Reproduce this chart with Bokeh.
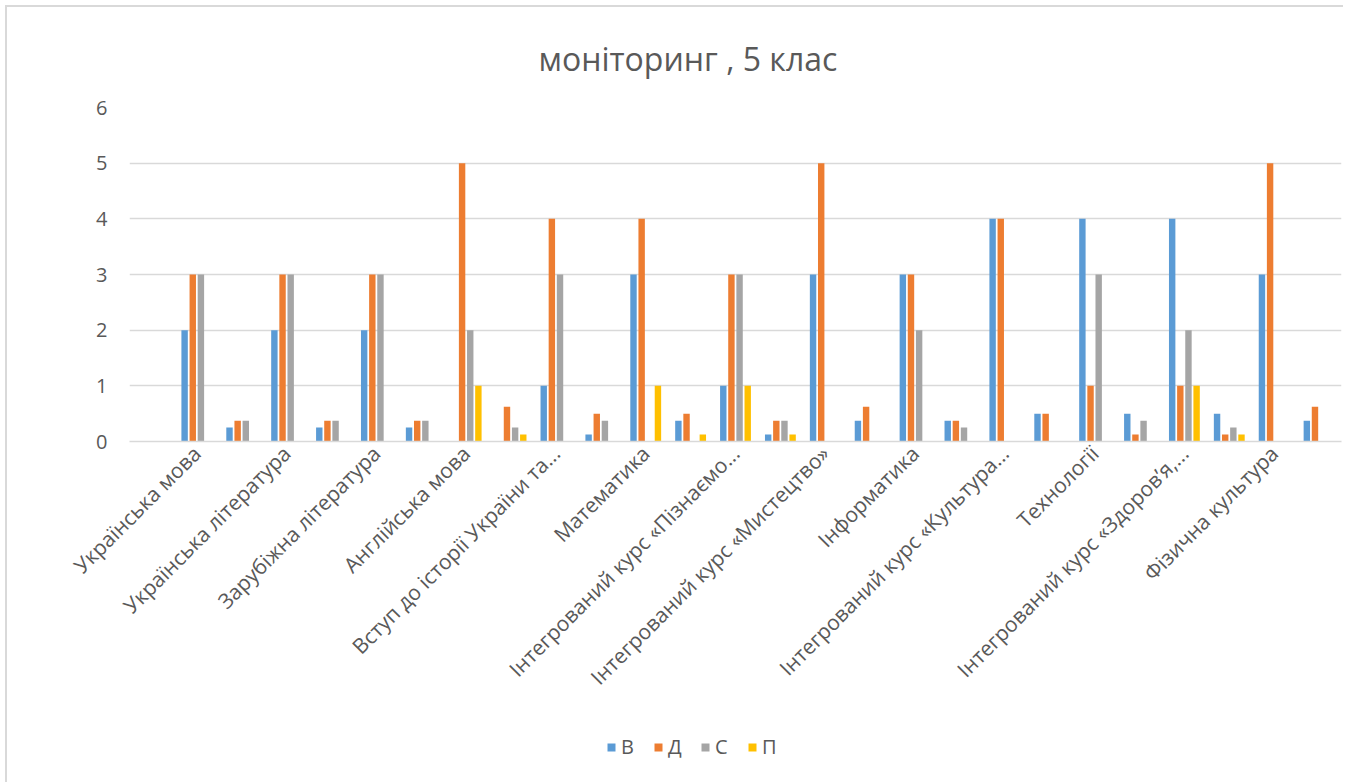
import math
from bokeh.plotting import figure
from bokeh.layouts import column
from bokeh.models import ColumnDataSource, FixedTicker, Legend, LegendItem, Range1d
from bokeh.transform import dodge
from bokeh.embed import file_html
from bokeh.resources import INLINE

# ---- data ----
categories = ["", "Українська мова", "", "Українська література", "", "Зарубіжна література", "",
              "Англійська мова", "", "Вступ до історії України та...", "", "Математика", "",
              "Інтегрований курс «Пізнаємо...", "", "Інтегрований курс «Мистецтво»", "",
              "Інформатика", "", "Інтегрований курс «Культура...", "", "Технології", "",
              "Інтегрований курс «Здоров’я,...", "", "Фізична культура", ""]
series_names = ["В", "Д", "С", "П"]
v_B = [0, 2, 0.25, 2, 0.25, 2, 0.25, 0, 0, 1, 0.125, 3, 0.375, 1, 0.125, 3, 0.375,
       3, 0.375, 4, 0.5, 4, 0.5, 4, 0.5, 3, 0.375]
v_D = [0, 3, 0.375, 3, 0.375, 3, 0.375, 5, 0.625, 4, 0.5, 4, 0.5, 3, 0.375, 5, 0.625,
       3, 0.375, 4, 0.5, 1, 0.125, 1, 0.125, 5, 0.625]
v_S = [0, 3, 0.375, 3, 0.375, 3, 0.375, 2, 0.25, 3, 0.375, 0, 0, 3, 0.375, 0, 0,
       2, 0.25, 0, 0, 3, 0.375, 2, 0.25, 0, 0]
v_P = [0, 0, 0, 0, 0, 0, 0, 1, 0.125, 0, 0, 1, 0.125, 1, 0.125, 0, 0,
       0, 0, 0, 0, 0, 0, 1, 0.125, 0, 0]
y_ticks = [0, 1, 2, 3, 4, 5, 6]
title_text = "моніторинг , 5 клас"

colors = ["#5B9BD5", "#ED7D31", "#A5A5A5", "#FFC000"]
FONT = "Open Sans"
TXT = "#595959"
cols = ["B", "D", "S", "P"]

idx = list(range(len(categories)))
src = ColumnDataSource(dict(x=idx, B=v_B, D=v_D, S=v_S, P=v_P))

p = figure(width=1336, height=718,
           min_border_left=122, min_border_right=2, min_border_top=99, min_border_bottom=284,
           x_range=Range1d(-0.5, len(categories) - 0.5), y_range=Range1d(0, 6),
           output_backend="svg", toolbar_location=None, title=title_text)

bw = 1.0 / 7.0
step = 1.27 * bw
offs = [-1.5 * step, -0.5 * step, 0.5 * step, 1.5 * step]
for col, off, c in zip(cols, offs, colors):
    p.vbar(x=dodge("x", off, range=p.x_range), top=col, width=bw, source=src,
           fill_color=c, line_color=None)

# title
p.title.text_font = FONT
p.title.text_font_size = "32px"
p.title.text_font_style = "normal"
p.title.text_color = TXT
p.title.align = "left"
p.title.offset = 409
p.title.standoff = 55

# y axis
p.yaxis.ticker = FixedTicker(ticks=y_ticks)
p.yaxis.axis_line_color = None
p.yaxis.major_tick_line_color = None
p.yaxis.minor_tick_line_color = None
p.yaxis.major_tick_out = 0
p.yaxis.major_tick_in = 0
p.yaxis.major_label_standoff = 22
p.yaxis.major_label_text_font = FONT
p.yaxis.major_label_text_font_size = "20px"
p.yaxis.major_label_text_color = TXT

# x axis
lab_ticks = [i for i, c in enumerate(categories) if c]
p.xaxis.ticker = FixedTicker(ticks=lab_ticks)
p.xaxis.major_label_overrides = {i: categories[i] for i in lab_ticks}
p.xaxis.major_label_orientation = math.pi / 4
p.xaxis.axis_line_color = "#d9d9d9"
p.xaxis.axis_line_width = 1.5
p.xaxis.major_tick_line_color = None
p.xaxis.minor_tick_line_color = None
p.xaxis.major_tick_out = 0
p.xaxis.major_tick_in = 0
p.xaxis.major_label_standoff = 8
p.xaxis.major_label_text_font = FONT
p.xaxis.major_label_text_font_size = "21px"
p.xaxis.major_label_text_color = TXT

p.xgrid.grid_line_color = None
p.ygrid.grid_line_color = "#d9d9d9"
p.ygrid.grid_line_width = 1.5
p.outline_line_color = None

# legend strip (same data; its bars are hidden, only the legend shows)
lg = figure(width=1336, height=57, min_border_left=122, min_border_right=2,
            min_border_top=0, min_border_bottom=0,
            x_range=Range1d(-0.5, len(categories) - 0.5), y_range=Range1d(0, 6),
            x_axis_location=None, y_axis_location=None,
            output_backend="svg", toolbar_location=None)
lg.grid.grid_line_color = None
lg.outline_line_color = None
lrs = []
for col, off, c in zip(cols, offs, colors):
    lrs.append(lg.vbar(x=dodge("x", off, range=lg.x_range), top=col, width=bw, source=src,
                       fill_color=c, line_color=None, visible=False))
legend = Legend(items=[LegendItem(label=n, renderers=[r]) for n, r in zip(series_names, lrs)],
                orientation="horizontal", location=(477, 22),
                label_text_font=FONT, label_text_font_size="20px", label_text_color=TXT,
                glyph_width=10, glyph_height=10, label_standoff=5, spacing=12,
                border_line_color=None, background_fill_color=None, background_fill_alpha=0,
                inactive_fill_alpha=0, margin=0, padding=0)
lg.add_layout(legend, "center")

layout = column(p, lg, spacing=0)
layout.styles = {"border-left": "2px solid #d9d9d9", "border-top": "2px solid #d9d9d9",
                 "margin-left": "5px", "margin-top": "5px"}

open("out.html", "w").write(file_html(layout, INLINE))
